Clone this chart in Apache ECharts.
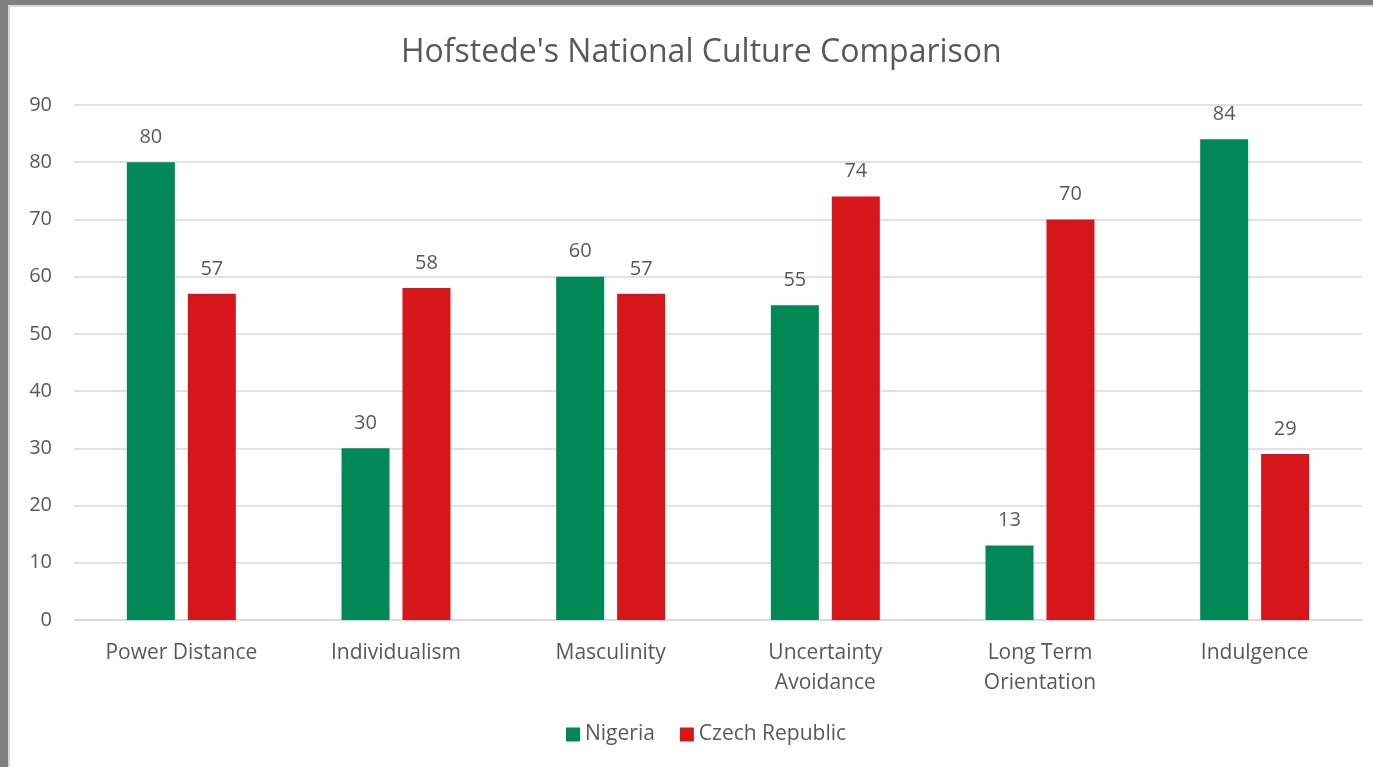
<!DOCTYPE html>
<html>
<head>
<meta charset="utf-8">
<script src="https://cdn.jsdelivr.net/npm/echarts@6/dist/echarts.min.js"></script>
<style>
  html, body { margin: 0; padding: 0; background: #fff; }
  #chart { width: 1373px; height: 767px; position: absolute; left: 0; top: 0; }
  .frame { position: absolute; background: #808080; pointer-events: none; }
  .edge { position: absolute; background: #d9d9d9; pointer-events: none; }
</style>
</head>
<body>
<div id="chart"></div>
<div class="frame" style="left:0;top:0;width:1373px;height:5px;"></div>
<div class="frame" style="left:0;top:0;width:8px;height:767px;"></div>
<div class="edge" style="left:8px;top:5px;width:1365px;height:2px;"></div>
<div class="edge" style="left:8px;top:5px;width:2px;height:762px;"></div>
<script>
const categories = ['Power Distance', 'Individualism', 'Masculinity', 'Uncertainty Avoidance', 'Long Term Orientation', 'Indulgence'];
const nigeria = [80, 30, 60, 55, 13, 84];
const czech = [57, 58, 57, 74, 70, 29];
const yTicks = { min: 0, max: 90, interval: 10 };

const FONT = 'Open Sans';
const TXT = '#595959';

const chart = echarts.init(document.getElementById('chart'), null, { renderer: 'canvas' });
const labelCfg = { show: true, position: 'top', distance: 15, color: TXT, fontSize: 20, fontFamily: FONT };
chart.setOption({
  backgroundColor: 'transparent',
  animation: false,
  title: {
    text: "Hofstede's National Culture Comparison",
    left: 396, top: 32,
    textStyle: { fontFamily: FONT, fontSize: 32, fontWeight: 'normal', color: TXT }
  },
  legend: {
    bottom: 17, left: 561,
    itemWidth: 14, itemHeight: 14, itemGap: 25,
    icon: 'rect',
    textStyle: { fontFamily: FONT, fontSize: 21, color: TXT },
    data: ['Nigeria', 'Czech Republic']
  },
  grid: { left: 74, right: 11, top: 105, bottom: 147, containLabel: false },
  xAxis: {
    type: 'category',
    data: categories,
    axisLine: { lineStyle: { color: '#d9d9d9', width: 1.5 } },
    axisTick: { show: false },
    axisLabel: {
      color: TXT, fontSize: 21, fontFamily: FONT, margin: 18, lineHeight: 30,
      formatter: function (v) {
        if (v.length > 15) { const i = v.lastIndexOf(' '); return v.slice(0, i) + '\n' + v.slice(i + 1); }
        return v;
      }
    }
  },
  yAxis: {
    type: 'value',
    min: yTicks.min, max: yTicks.max, interval: yTicks.interval,
    axisLine: { show: false },
    axisTick: { show: false },
    axisLabel: { color: TXT, fontSize: 20, fontFamily: FONT, margin: 22 },
    splitLine: { lineStyle: { color: '#d9d9d9', width: 1.5 } }
  },
  series: [
    { name: 'Nigeria', type: 'bar', data: nigeria, barWidth: 48, barGap: '27%',
      itemStyle: { color: '#008856' }, label: labelCfg },
    { name: 'Czech Republic', type: 'bar', data: czech, barWidth: 48,
      itemStyle: { color: '#d7161b' }, label: labelCfg }
  ]
});
</script>
</body>
</html>
